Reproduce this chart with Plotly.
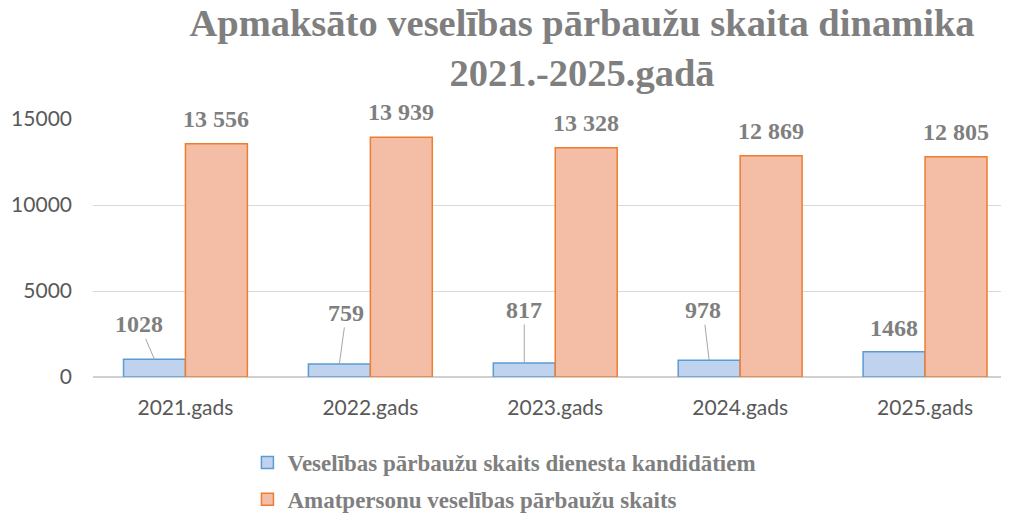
import plotly.graph_objects as go

categories = ["2021.gads", "2022.gads", "2023.gads", "2024.gads", "2025.gads"]
candidates = [1028, 759, 817, 978, 1468]
officials = [13556, 13939, 13328, 12869, 12805]
series_names = ["Veselības pārbaužu skaits dienesta kandidātiem",
                "Amatpersonu veselības pārbaužu skaits"]
y_ticks = [0, 5000, 10000, 15000]
title_text = "Apmaksāto veselības pārbaužu skaita dinamika<br>2021.-2025.gadā"

# label offsets (pixels) for the candidate labels: (ax, ay)
cand_label_offsets = [(-15, -35), (7, -51), (0, -53), (-6, -50), (0, -24)]

GRAY = "#7f7f7f"
SERIF = "Liberation Serif, Times New Roman, serif"
SANS = "Lato, Open Sans, sans-serif"

OFF = 8  # page body margin
W, H = 1009 - OFF, 515 - OFF
ML, MT, MB = 92.5 - OFF, 119 - OFF, H - (377 - OFF)
PW, PH = W - ML, H - MT - MB
px_per_cat = 185.0

fig = go.Figure()
fig.add_trace(go.Bar(
    x=categories, y=candidates, name=series_names[0],
    marker=dict(color="#bfd3ee", line=dict(color="#5b9bd5", width=1.5)),
    legendgroup="a",
))
fig.add_trace(go.Bar(
    x=categories, y=officials, name=series_names[1],
    marker=dict(color="#f4bea6", line=dict(color="#ed7d31", width=1.5)),
    legendgroup="b",
))

label_font = dict(family=SERIF, size=24, color=GRAY, weight="bold")
half_bar = 31
annotations = []
for cat, v, (ax, ay) in zip(categories, candidates, cand_label_offsets):
    if abs(ay) > 30:
        annotations.append(dict(
            x=cat, y=v, xref="x", yref="y", xshift=-half_bar,
            text=str(v), showarrow=True, arrowhead=0, arrowwidth=1,
            arrowcolor="#a6a6a6", ax=ax, ay=ay, standoff=0,
            font=label_font,
        ))
    else:
        annotations.append(dict(
            x=cat, y=v, xref="x", yref="y", xshift=-half_bar + ax, yshift=-ay,
            text=str(v), showarrow=False, yanchor="middle",
            font=label_font,
        ))
for cat, v in zip(categories, officials):
    annotations.append(dict(
        x=cat, y=v, xref="x", yref="y", xshift=half_bar, yshift=25,
        text=f"{v:,}".replace(",", " "), showarrow=False, yanchor="middle",
        font=label_font,
    ))

fig.update_layout(
    width=W, height=H,
    paper_bgcolor="white", plot_bgcolor="white",
    margin=dict(l=ML, r=0, t=MT, b=MB, autoexpand=False),
    barmode="group", bargap=0.33, bargroupgap=0,
    title=dict(text=title_text, x=(582 - OFF) / W, xanchor="center",
               yref="container", y=1 - 28 / H, yanchor="middle",
               font=dict(family=SERIF, size=38.5, color=GRAY, weight="bold")),
    xaxis=dict(range=[-0.5, -0.5 + PW / px_per_cat], showgrid=False,
               showline=False, ticks="", ticklabelstandoff=16,
               automargin=False,
               tickfont=dict(family=SANS, size=21, color="#595959")),
    yaxis=dict(range=[0, 15000], tickvals=y_ticks, tickformat="d",
               showgrid=True, automargin=False,
               gridcolor="#d9d9d9", gridwidth=1, zeroline=True,
               zerolinecolor="#d0d0d0", zerolinewidth=2,
               showline=False, ticks="", ticklabelstandoff=20,
               tickfont=dict(family=SANS, size=21, color="#595959")),
    legend=dict(orientation="v", x=(247 - OFF - ML) / PW, xanchor="left",
                y=(H - MB - (441 - OFF)) / PH, yanchor="top",
                traceorder="grouped", tracegroupgap=4,
                font=dict(family=SERIF, size=23, color=GRAY, weight="bold")),
    annotations=annotations,
    showlegend=True,
)

fig.write_html("out.html")
